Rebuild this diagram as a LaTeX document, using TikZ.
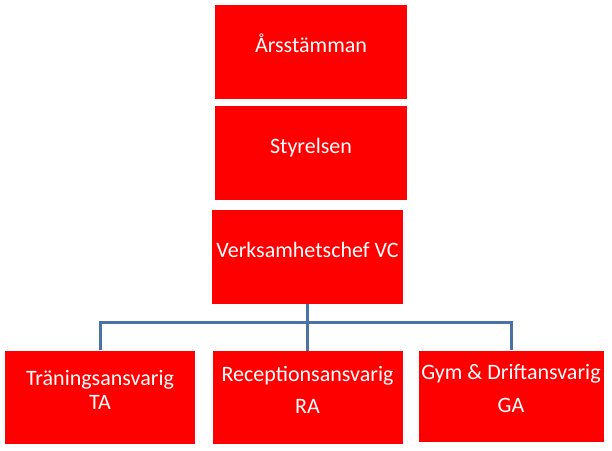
\documentclass[tikz,border=0pt]{standalone}
\usepackage{fontspec}
\setmainfont{Carlito}
\usetikzlibrary{positioning}

\definecolor{boxred}{RGB}{255,0,0}
\definecolor{linkblue}{RGB}{72,114,168}

\begin{document}
\begin{tikzpicture}[
    x=1pt, y=-1pt,
    every node/.style={font=\fontsize{22}{24}\selectfont},
    orgbox/.style={fill=boxred, text=white, inner sep=0pt, align=center,
        text height=8pt, text depth=8pt},
    link/.style={draw=linkblue, line width=3pt}
]

% Page frame
\fill[white] (0,0) rectangle (612,450);
\useasboundingbox (0,0) rectangle (612,450);

% Top chain
\node[orgbox, minimum width=192pt, minimum height=94pt] (ars) at (311,52) {Årsstämman};
\node[orgbox, minimum width=192pt, minimum height=94pt] (sty) at (311,153) {Styrelsen};
\node[orgbox, minimum width=191pt, minimum height=94pt] (vc) at (307.5,257) {Verksamhetschef VC};

% Bottom row
\node[orgbox, minimum width=190pt, minimum height=93pt, text height=32pt] (ta) at (100,397)
    {Träningsansvarig\\TA};
\node[orgbox, minimum width=190pt, minimum height=93pt, text height=40pt,
    font=\fontsize{22}{32}\selectfont] (ra) at (307.5,397.5) {Receptionsansvarig\\RA};
\node[orgbox, minimum width=185pt, minimum height=91pt, text height=41pt,
    font=\fontsize{22}{33}\selectfont] (ga) at (511,396) {Gym \& Driftansvarig\\GA};

% Connectors
\coordinate (bus) at (307.5,322);
\draw[link] (vc.south) -- (bus);
\draw[link] (ta.north) |- (bus) -| (ga.north);
\draw[link] (bus) -- (bus |- ra.north);

\end{tikzpicture}
\end{document}
